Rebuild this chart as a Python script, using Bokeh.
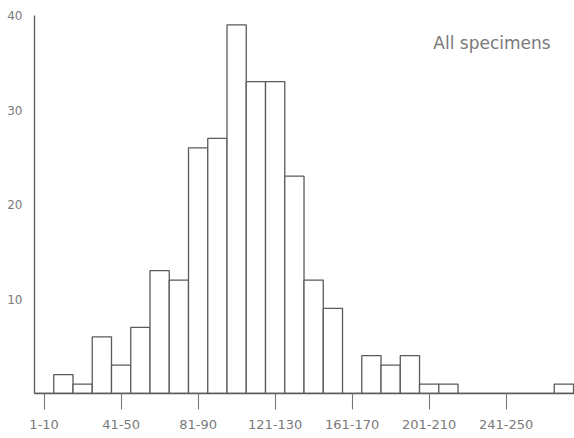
from bokeh.plotting import figure
from bokeh.models import Range1d, FixedTicker, Label
from bokeh.embed import file_html
from bokeh.resources import INLINE

# Data: bins of 10 (1-10, 11-20, ..., 271-280)
bin_starts = list(range(1, 281, 10))
counts = [0, 2, 1, 6, 3, 7, 13, 12, 26, 27, 39, 33, 33, 23, 12, 9,
          0, 4, 3, 4, 1, 1, 0, 0, 0, 0, 0, 1]
tick_labels = ["1-10", "41-50", "81-90", "121-130", "161-170", "201-210", "241-250"]
y_ticks = [10, 20, 30, 40]
title_text = "All specimens"

centers = [s + 4.5 for s in bin_starts]
tick_pos = [float(lbl.split("-")[0]) + 4.5 for lbl in tick_labels]

line_col = "#5a5a5a"
text_col = "#7a7a7a"

p = figure(width=574, height=438, output_backend="svg", toolbar_location=None,
           x_range=Range1d(0.5, 281), y_range=Range1d(0, 40),
           min_border_left=34, min_border_right=0, min_border_top=15,
           min_border_bottom=45)
p.outline_line_color = None
p.background_fill_color = "white"
p.border_fill_color = "white"
p.grid.visible = False

p.vbar(x=centers, top=counts, width=10, bottom=0, fill_color="white",
       line_color=line_col, line_width=1.3)

# y axis
ya = p.yaxis[0]
ya.ticker = FixedTicker(ticks=y_ticks)
ya.major_tick_out = 0
ya.major_tick_in = 0
ya.minor_tick_out = 0
ya.minor_tick_in = 0
ya.axis_line_color = line_col
ya.axis_line_width = 1.3
ya.major_label_text_color = text_col
ya.major_label_text_font = "DejaVu Sans"
ya.major_label_text_font_size = "12px"
ya.major_label_standoff = 12

# x axis
xa = p.xaxis[0]
xa.ticker = FixedTicker(ticks=tick_pos)
xa.major_label_overrides = {t: l for t, l in zip(tick_pos, tick_labels)}
xa.major_tick_out = 16
xa.major_tick_in = 0
xa.minor_tick_out = 0
xa.minor_tick_in = 0
xa.major_tick_line_color = "#777777"
xa.major_tick_line_width = 1.1
xa.axis_line_color = line_col
xa.axis_line_width = 1.3
xa.major_label_text_color = text_col
xa.major_label_text_font = "DejaVu Sans"
xa.major_label_text_font_size = "13px"
xa.major_label_standoff = 10

p.add_layout(Label(x=268.6, y=37.1, text=title_text, text_align="right",
                   text_baseline="middle", text_color=text_col,
                   text_font="DejaVu Sans", text_font_size="17px"))

open("out.html", "w").write(file_html(p, INLINE))
